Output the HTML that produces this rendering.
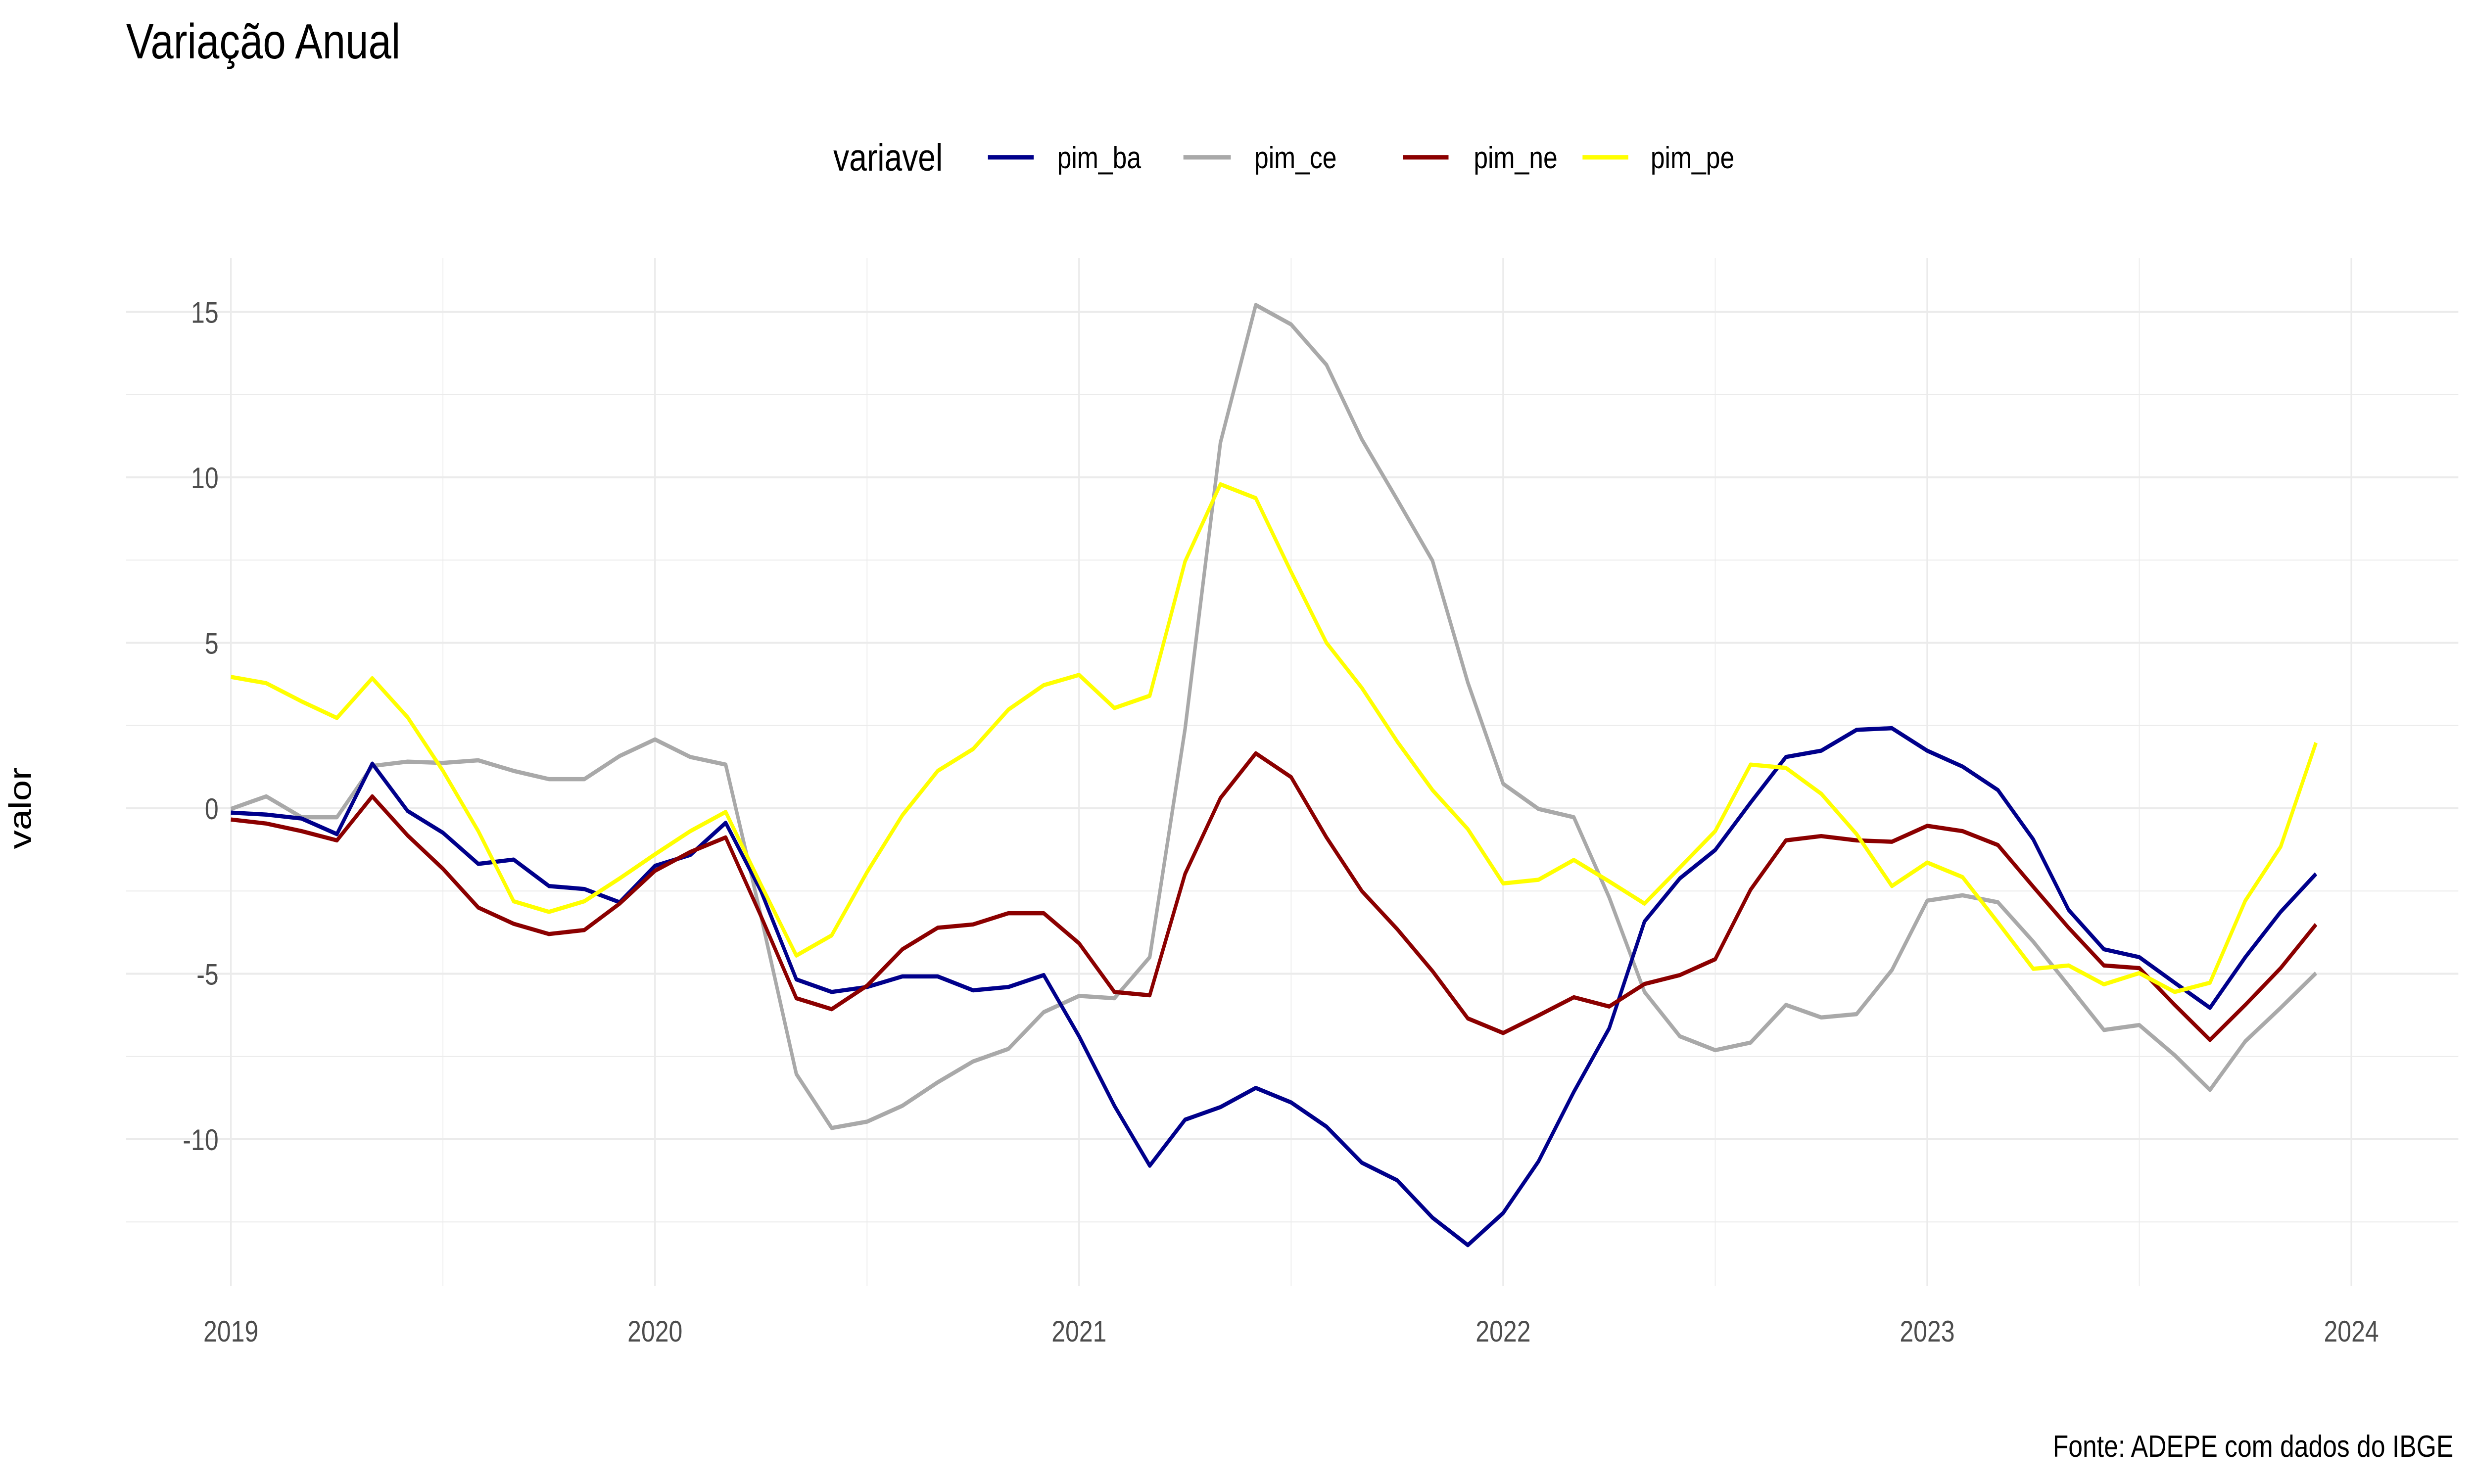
<!DOCTYPE html>
<html><head><meta charset="utf-8"><style>html,body{margin:0;padding:0;background:#fff;overflow:hidden;width:100%;height:100%}svg{display:block;width:100vw;height:100vh}</style></head>
<body>
<svg id="chart" viewBox="0 0 6000 3000" preserveAspectRatio="none" xmlns="http://www.w3.org/2000/svg" font-family="Liberation Sans, sans-serif">
<rect width="6000" height="3000" fill="#fff"/>
<g id="grid"></g>
<g id="series"></g>
<g id="axes"></g>
<text x="306" y="118" font-size="100" fill="#000">Variação Anual</text>
<text x="75" y="1634" font-size="76" fill="#000" text-anchor="middle" transform="rotate(-90 75 1634)">valor</text>
<text x="5950" y="2945" font-size="62" fill="#000" text-anchor="end">Fonte: ADEPE com dados do IBGE</text>
<g>
<text x="2021" y="345" font-size="77" fill="#000">variavel</text>
<line x1="2396" y1="318" x2="2507" y2="318" stroke="#00008b" stroke-width="9"/>
<text x="2564" y="340" font-size="62">pim_ba</text>
<line x1="2870" y1="318" x2="2985" y2="318" stroke="#a9a9a9" stroke-width="9"/>
<text x="3042" y="340" font-size="62">pim_ce</text>
<line x1="3402" y1="318" x2="3513" y2="318" stroke="#8b0000" stroke-width="9"/>
<text x="3574" y="340" font-size="62">pim_ne</text>
<line x1="3838" y1="318" x2="3949" y2="318" stroke="#ffff00" stroke-width="9"/>
<text x="4003" y="340" font-size="62">pim_pe</text>
</g>
</svg>
<script>
const startYear = 2019;
const yTicks = [-10, -5, 0, 5, 10, 15];
const yMinor = [-12.5, -7.5, -2.5, 2.5, 7.5, 12.5];
const xTicks = [2019, 2020, 2021, 2022, 2023, 2024];
const pimBa = [-0.13,-0.19,-0.31,-0.78,1.35,-0.08,-0.74,-1.68,-1.55,-2.35,-2.44,-2.84,-1.74,-1.41,-0.44,-2.5,-5.17,-5.55,-5.4,-5.08,-5.08,-5.5,-5.4,-5.04,-6.89,-8.99,-10.8,-9.41,-9.03,-8.45,-8.89,-9.62,-10.71,-11.24,-12.37,-13.2,-12.23,-10.67,-8.57,-6.65,-3.42,-2.12,-1.26,0.17,1.55,1.74,2.37,2.42,1.74,1.26,0.55,-0.94,-3.07,-4.26,-4.5,-5.27,-6.03,-4.5,-3.13,-1.98];
const pimCe = [-0.02,0.36,-0.27,-0.27,1.28,1.41,1.37,1.45,1.13,0.88,0.88,1.58,2.08,1.55,1.32,-3.26,-8.03,-9.66,-9.47,-8.99,-8.28,-7.65,-7.27,-6.16,-5.67,-5.74,-4.5,2.4,11.05,15.21,14.62,13.4,11.15,9.33,7.48,3.8,0.74,-0.02,-0.27,-2.69,-5.55,-6.89,-7.31,-7.08,-5.94,-6.32,-6.22,-4.89,-2.79,-2.63,-2.84,-4.03,-5.36,-6.7,-6.55,-7.46,-8.51,-7.04,-6.03,-4.98];
const pimNe = [-0.34,-0.46,-0.69,-0.97,0.36,-0.82,-1.83,-3.0,-3.49,-3.8,-3.68,-2.88,-1.89,-1.32,-0.88,-3.26,-5.74,-6.07,-5.36,-4.26,-3.61,-3.51,-3.17,-3.17,-4.08,-5.55,-5.65,-1.98,0.31,1.66,0.94,-0.88,-2.5,-3.65,-4.92,-6.35,-6.79,-6.26,-5.71,-5.99,-5.31,-5.04,-4.56,-2.46,-0.97,-0.84,-0.97,-1.01,-0.53,-0.69,-1.11,-2.37,-3.61,-4.75,-4.83,-5.94,-7.0,-5.94,-4.83,-3.51];
const pimPe = [3.97,3.78,3.23,2.73,3.93,2.75,1.13,-0.69,-2.81,-3.13,-2.81,-2.12,-1.39,-0.69,-0.11,-2.31,-4.45,-3.84,-1.93,-0.21,1.13,1.79,2.98,3.72,4.03,3.03,3.4,7.46,9.79,9.37,7.14,5.0,3.64,2.02,0.55,-0.63,-2.27,-2.16,-1.56,-2.21,-2.88,-1.79,-0.69,1.32,1.22,0.44,-0.78,-2.35,-1.64,-2.08,-3.45,-4.85,-4.75,-5.32,-4.98,-5.55,-5.27,-2.79,-1.16,1.98];

const NS = 'http://www.w3.org/2000/svg';
const PL = 306, PR = 5962, PT = 522, PB = 2600;
function xScale(yearFrac){ return 560 + (yearFrac - 2019) * 1028.5; }
function yScale(v){ return 1634 - v * 66.9; }
function mk(tag, attrs, parent){ const e = document.createElementNS(NS, tag); for (const k in attrs) e.setAttribute(k, attrs[k]); parent.appendChild(e); return e; }

const grid = document.getElementById('grid');
const axes = document.getElementById('axes');
yMinor.forEach(v => {
  const l = mk('line', {x1:PL, x2:PR, y1:yScale(v), y2:yScale(v), stroke:'#ebebeb', 'stroke-width':2}, grid);
  
  
});
xTicks.slice(0, -1).forEach(t => {
  const l = mk('line', {x1:xScale(t+0.5), x2:xScale(t+0.5), y1:PT, y2:PB, stroke:'#ebebeb', 'stroke-width':2}, grid);
  
  
});
yTicks.forEach(v => {
  const l = mk('line', {x1:PL, x2:PR, y1:yScale(v), y2:yScale(v), stroke:'#ebebeb', 'stroke-width':4}, grid);
  
  
  const t = mk('text', {x:530, y:yScale(v)+22, 'font-size':60, fill:'#4d4d4d', 'text-anchor':'end'}, axes);
  t.textContent = v;
  
  
});
xTicks.forEach(v => {
  const l = mk('line', {x1:xScale(v), x2:xScale(v), y1:PT, y2:PB, stroke:'#ebebeb', 'stroke-width':4}, grid);
  
  
  const t = mk('text', {x:xScale(v), y:2712, 'font-size':60, fill:'#4d4d4d', 'text-anchor':'middle'}, axes);
  t.textContent = v;
  
  
});
const seriesG = document.getElementById('series');
[[pimCe,'#a9a9a9','line-pim-ce'],[pimBa,'#00008b','line-pim-ba'],[pimNe,'#8b0000','line-pim-ne'],[pimPe,'#ffff00','line-pim-pe']].forEach(([arr,col,name]) => {
  const d = arr.map((v,i) => (i?'L':'M') + xScale(startYear + i/12).toFixed(1) + ',' + yScale(v).toFixed(1)).join(' ');
  const p = mk('path', {d:d, fill:'none', stroke:col, 'stroke-width':8.5, 'stroke-linejoin':'round'}, seriesG);
  
  
});
</script>
</body></html>
